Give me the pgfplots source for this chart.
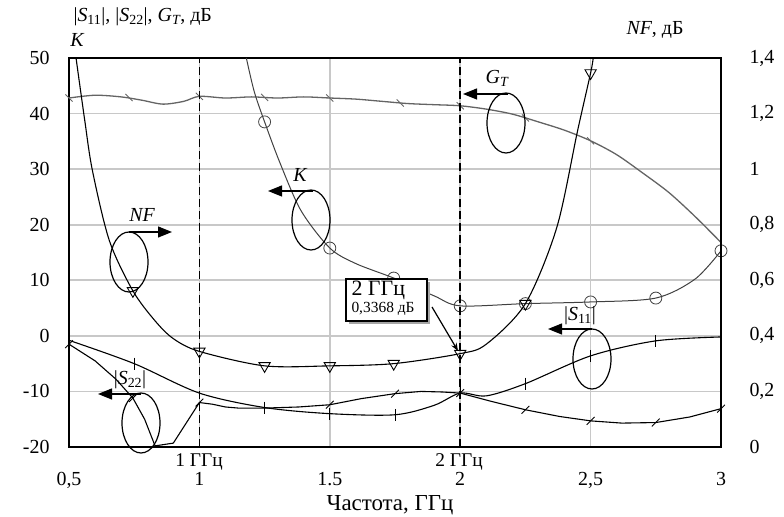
\documentclass[border=0pt]{standalone}
\usepackage{fontspec}
\setmainfont{Liberation Serif}
\usepackage{pgfplots}
\pgfplotsset{compat=1.18}
\usetikzlibrary{arrows.meta}
\definecolor{gridc}{RGB}{200,200,200}
\definecolor{gtc}{RGB}{100,100,100}
\begin{document}
\begin{tikzpicture}[x=1bp,y=1bp]
\path[use as bounding box] (-69,-70) rectangle (715,447);
\begin{axis}[
  at={(0,0)}, anchor=south west,
  scale only axis, width=652bp, height=389bp,
  xmin=0.5, xmax=3, ymin=-20, ymax=50,
  clip mode=individual,
  xtick={0.5,1,1.5,2,2.5,3},
  xticklabels={{0,5},1,1.5,2,{2,5},3},
  ytick={-20,-10,0,10,20,30,40,50},
  yticklabels={-20,-10,0,10,20,30,40,50},
  grid=major, major grid style={gridc, line width=1.6bp},
  axis line style={line width=1.5bp},
  tick style={draw=none},
  tick label style={font=\fontsize{20}{22}\selectfont},
  xticklabel style={yshift=-22bp},
  yticklabel style={xshift=-16bp},
]
% G_T
\addplot[gtc, line width=1.3bp, smooth] coordinates {
(0.5,42.8)(0.6,43.3)(0.7,43.0)(0.78,42.4)(0.86,41.7)(0.94,42.2)(1.0,43.1)(1.1,42.8)(1.2,43.0)(1.3,42.8)(1.4,43.0)(1.5,42.8)(1.6,42.6)(1.7,42.2)(1.8,41.8)(1.9,41.6)(2.0,41.4)(2.1,40.8)(2.2,39.9)(2.3,38.5)(2.4,37.0)(2.5,35.1)(2.6,32.6)(2.7,29.3)(2.8,25.8)(2.9,21.5)(3.0,16.8)};
\addplot[gtc, only marks, mark=|, mark size=5bp, mark options={rotate=45, line width=0.9bp}] coordinates {
(0.5,42.8)(0.73,42.9)(1.0,43.1)(1.25,42.9)(1.5,42.8)(1.77,41.9)(2.0,41.4)(2.25,39.2)(2.5,35.1)};
% K
\addplot[black!75, line width=1bp, smooth] coordinates {
(1.18,50)(1.21,44)(1.25,38.5)(1.31,31)(1.39,22.5)(1.5,15.8)(1.6,13)(1.745,10.4)(1.9,7.2)(2.0,5.4)(2.25,5.8)(2.5,6.1)(2.75,6.8)(2.9,10.2)(3.0,15.3)};
\addplot[black!75, only marks, mark=o, mark size=6bp, mark options={line width=0.8bp}] coordinates {
(1.25,38.5)(1.5,15.8)(1.745,10.4)(2.0,5.4)(2.25,5.8)(2.5,6.1)(2.75,6.8)(3.0,15.3)};
% S11
\addplot[black, line width=1.1bp, smooth] coordinates {
(0.5,-0.8)(0.75,-5)(1.0,-10.3)(1.25,-12.9)(1.5,-14)(1.75,-14.2)(1.9,-12.5)(2.0,-10.3)(2.1,-10.8)(2.25,-8.6)(2.5,-3.6)(2.75,-0.9)(3.0,-0.2)};
\addplot[black, only marks, mark=|, mark size=6bp, mark options={line width=0.9bp}] coordinates {
(0.75,-5)(1.25,-12.9)(1.5,-14)(1.75,-14.2)(2.0,-10.3)(2.25,-8.6)(2.5,-3.6)(2.75,-0.9)};
% S22
\addplot[black, line width=1.1bp] coordinates {
(0.5,-1.5)(0.6,-4.5)(0.68,-7.8)(0.745,-11.2)(0.79,-15)(0.83,-19.8)(0.9,-19.3)(1.0,-12)(1.05,-12.3)(1.1,-12.8)(1.15,-13)(1.25,-13)(1.38,-12.8)(1.5,-12.4)(1.62,-11.3)(1.75,-10.4)(1.85,-10.0)(1.93,-10.1)(2.0,-10.3)(2.12,-11.8)(2.25,-13.3)(2.38,-14.5)(2.5,-15.3)(2.62,-15.7)(2.75,-15.6)(2.88,-14.6)(3.0,-13.1)};
\addplot[black, only marks, mark=|, mark size=5.5bp, mark options={rotate=-45, line width=0.9bp}] coordinates {
(0.5,-1.5)(0.745,-11.2)(1.0,-12)(1.5,-12.4)(1.75,-10.4)(2.0,-10.3)(2.25,-13.3)(2.5,-15.3)(2.75,-15.6)(3.0,-13.1)};
% dashed markers
\draw[black, line width=1.5bp, dash pattern=on 8bp off 4bp] (axis cs:1,-20) -- (axis cs:1,50);
\draw[black, line width=1.5bp, dash pattern=on 8bp off 4bp] (axis cs:2,-20) -- (axis cs:2,50);
\end{axis}
\begin{axis}[
  at={(0,0)}, anchor=south west,
  scale only axis, width=652bp, height=389bp,
  xmin=0.5, xmax=3, ymin=0, ymax=1.4,
  axis x line=none, axis y line*=right,
  ytick={0,0.2,0.4,0.6,0.8,1,1.2,1.4},
  yticklabels={0,{0,2},{0,4},{0,6},{0,8},1,{1,2},{1,4}},
  axis line style={line width=1.5bp},
  tick style={draw=none},
  tick label style={font=\fontsize{20}{22}\selectfont},
  yticklabel style={xshift=25bp},
]
\addplot[black, line width=1.1bp, smooth] coordinates {
(0.527,1.4)(0.56,1.178)(0.59,0.994)(0.655,0.742)(0.745,0.562)(0.83,0.454)(0.9,0.39)(1.0,0.344)(1.25,0.292)(1.5,0.292)(1.745,0.30)(2.0,0.336)(2.1,0.37)(2.25,0.516)(2.37,0.789)(2.45,1.138)(2.5,1.346)(2.51,1.4)};
\addplot[black, only marks, mark=triangle, mark size=6.5bp, mark options={rotate=180, line width=0.9bp, fill=white}] coordinates {
(0.745,0.562)(1.0,0.344)(1.25,0.292)(1.5,0.292)(1.745,0.30)(2.0,0.336)(2.25,0.516)(2.5,1.346)};
\end{axis}
% titles
\node[anchor=west, font=\fontsize{20}{22}\selectfont] at (1,430) {|\textit{S}\textsubscript{11}|, |\textit{S}\textsubscript{22}|, \textit{G\textsubscript{T}}, дБ};
\node[font=\fontsize{20}{22}\selectfont\itshape] at (8,407) {K};
\node[font=\fontsize{20}{22}\selectfont] at (586,417) {\textit{NF}, дБ};
\node[font=\fontsize{23}{26}\selectfont] at (321,-58) {Частота, ГГц};
\node[font=\fontsize{19.5}{22}\selectfont] at (130,-15) {1 ГГц};
\node[font=\fontsize{19.5}{22}\selectfont] at (390,-15) {2 ГГц};
% ellipse annotations
\begin{scope}[line width=1.2bp]
\draw (60,185) ellipse [x radius=19, y radius=30];
\draw[-{Triangle[length=14bp,width=11bp]}] (60,215) -- (103,215);
\node[font=\fontsize{20}{22}\selectfont\itshape] at (73,232) {NF};
\draw (242,227) ellipse [x radius=19, y radius=30];
\draw[-{Triangle[length=14bp,width=11bp]}] (244,256) -- (199,256);
\node[font=\fontsize{20}{22}\selectfont\itshape] at (231,272) {K};
\draw (437,324) ellipse [x radius=19, y radius=30];
\draw[-{Triangle[length=14bp,width=11bp]}] (439,353) -- (394,353);
\node[font=\fontsize{20}{22}\selectfont] at (428,369) {\textit{G\textsubscript{T}}};
\draw (523,88) ellipse [x radius=19, y radius=30];
\draw[-{Triangle[length=14bp,width=11bp]}] (523,118) -- (479,118);
\node[font=\fontsize{20}{22}\selectfont] at (511,131) {|\textit{S}\textsubscript{11}|};
\draw (72,24) ellipse [x radius=19, y radius=30];
\draw[-{Triangle[length=14bp,width=11bp]}] (72,53) -- (29,53);
\node[font=\fontsize{20}{22}\selectfont] at (61,67) {|\textit{S}\textsubscript{22}|};
\end{scope}
% data callout
\fill[gray!70] (280,123) rectangle (361,165);
\draw[fill=white, line width=1.2bp] (277,126) rectangle (358,168);
\node[anchor=west, font=\fontsize{22}{24}\selectfont] at (279,157) {2 ГГц};
\node[anchor=west, font=\fontsize{15.5}{17}\selectfont] at (279,138) {0,3368 дБ};
\draw[line width=1.2bp, -{Stealth[length=8bp,width=6bp]}] (363,140) -- (389,96);
\end{tikzpicture}
\end{document}
